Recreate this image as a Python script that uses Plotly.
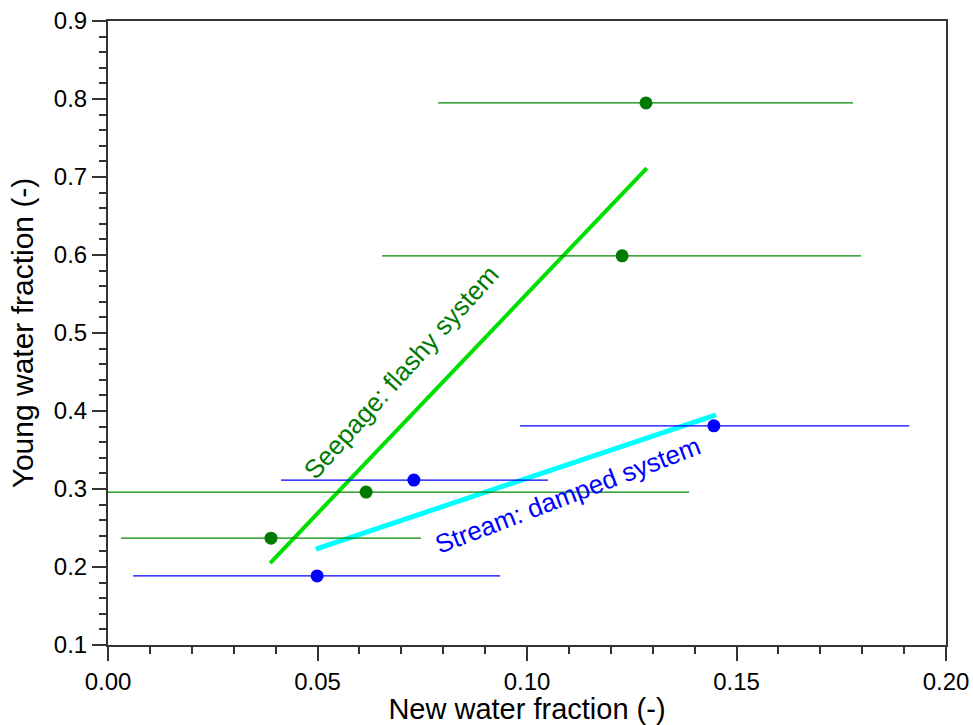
import plotly.graph_objects as go

# Seepage (green) points
seep_x = [0.1284, 0.1227, 0.0616, 0.0389]
seep_y = [0.795, 0.599, 0.296, 0.237]
seep_err_lo = [0.0496, 0.0573, 0.0771, 0.0358]
seep_err_hi = [0.0494, 0.0570, 0.0771, 0.0358]

# Stream (blue) points
strm_x = [0.0499, 0.0730, 0.1446]
strm_y = [0.1885, 0.3115, 0.381]
strm_err_lo = [0.0439, 0.0317, 0.0463]
strm_err_hi = [0.0437, 0.0320, 0.0466]

# Regression lines
seep_line_x = [0.0387, 0.1286]
seep_line_y = [0.205, 0.7115]
strm_line_x = [0.0496, 0.1451]
strm_line_y = [0.223, 0.395]

x_ticks = [0.00, 0.05, 0.10, 0.15, 0.20]
y_ticks = [0.1, 0.2, 0.3, 0.4, 0.5, 0.6, 0.7, 0.8, 0.9]

FONT = "Liberation Sans, Arial, Helvetica, sans-serif"

fig = go.Figure()
fig.add_trace(go.Scatter(x=seep_line_x, y=seep_line_y, mode="lines",
                         line=dict(color="#00e000", width=4), showlegend=False))
fig.add_trace(go.Scatter(x=strm_line_x, y=strm_line_y, mode="lines",
                         line=dict(color="#00ffff", width=5), showlegend=False))
fig.add_trace(go.Scatter(x=seep_x, y=seep_y, mode="markers",
                         marker=dict(color="#007a00", size=13),
                         error_x=dict(type="data", symmetric=False, array=seep_err_hi,
                                      arrayminus=seep_err_lo, width=0, thickness=1.2,
                                      color="#008a00"),
                         showlegend=False))
fig.add_trace(go.Scatter(x=strm_x, y=strm_y, mode="markers",
                         marker=dict(color="#0000ff", size=13),
                         error_x=dict(type="data", symmetric=False, array=strm_err_hi,
                                      arrayminus=strm_err_lo, width=0, thickness=1.2,
                                      color="#0000ff"),
                         showlegend=False))

fig.add_annotation(x=0.0700, y=0.450, xref="x", yref="y", text="Seepage: flashy system",
                   showarrow=False, textangle=-48,
                   font=dict(family=FONT, size=26, color="#007a00"))
fig.add_annotation(x=0.1098, y=0.292, xref="x", yref="y", text="Stream: damped system",
                   showarrow=False, textangle=-21,
                   font=dict(family=FONT, size=26, color="#0000ff"))

axis_common = dict(showline=True, linecolor="#333333", linewidth=2, mirror=True,
                   showgrid=False, zeroline=False, ticks="outside", ticklen=14,
                   tickwidth=1.5, tickcolor="#333333", automargin=False,
                   tickfont=dict(family=FONT, size=24, color="black"))

fig.update_xaxes(range=[0, 0.2], tickvals=x_ticks,
                 ticktext=[f"{v:.2f}" for v in x_ticks],
                 minor=dict(dtick=0.01, tick0=0, ticks="outside", ticklen=7,
                            tickwidth=1.5, tickcolor="#333333"),
                 title=dict(text="New water fraction (-)", standoff=9,
                            font=dict(family=FONT, size=29, color="black")),
                 **axis_common)
fig.update_yaxes(range=[0.1, 0.9], tickvals=y_ticks,
                 ticktext=[f"{v:.1f}" for v in y_ticks],
                 minor=dict(dtick=0.02, tick0=0.1, ticks="outside", ticklen=7,
                            tickwidth=1.5, tickcolor="#333333"),
                 title=dict(text="Young water fraction (-)", standoff=11,
                            font=dict(family=FONT, size=30, color="black")),
                 **axis_common)

fig.update_layout(width=973, height=725, plot_bgcolor="white", paper_bgcolor="white",
                  margin=dict(l=108, r=27, t=21, b=80))

fig.write_html("out.html", config={"displayModeBar": False},
               post_script="document.body.style.margin='0';document.body.style.overflow='hidden';")
